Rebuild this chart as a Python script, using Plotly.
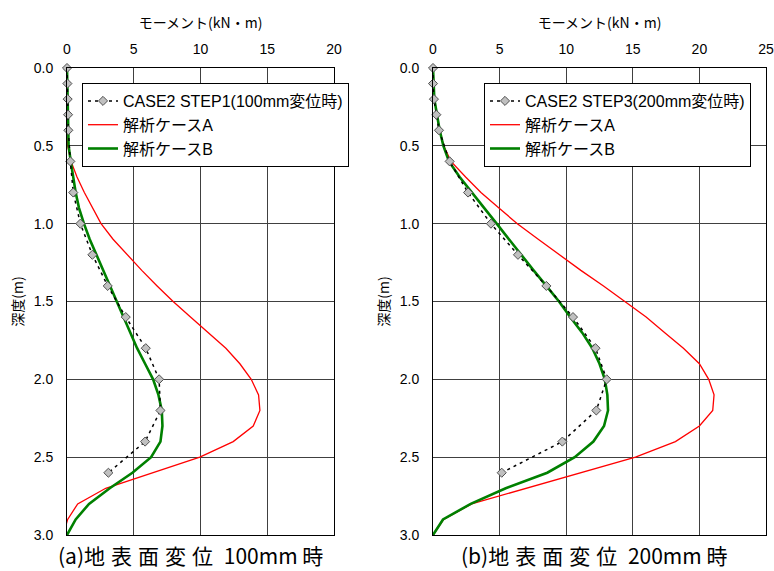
import plotly.graph_objects as go

depth_obs = [0.0, 0.1, 0.2, 0.3, 0.4, 0.6, 0.8, 1.0, 1.2, 1.4, 1.6, 1.8, 2.0, 2.2, 2.4, 2.6]
obs_a = [0.0, 0.03, 0.05, 0.08, 0.1, 0.25, 0.47, 1.0, 1.9, 3.05, 4.4, 5.9, 6.9, 7.0, 5.85, 3.1]
obs_b = [0.0, 0.0, 0.07, 0.25, 0.45, 1.25, 2.63, 4.35, 6.38, 8.51, 10.51, 12.2, 13.04, 12.26, 9.71, 5.16]

depth_calc = [0.0, 0.1, 0.2, 0.3, 0.4, 0.5, 0.6, 0.7, 0.8, 0.9, 1.0, 1.1, 1.2, 1.3, 1.4, 1.5,
              1.6, 1.7, 1.8, 1.9, 2.0, 2.1, 2.2, 2.3, 2.4, 2.5, 2.6, 2.7, 2.8, 2.9, 3.0]
case_a_left = [0.0, -0.05, -0.1, -0.1, -0.05, 0.05, 0.3, 0.75, 1.3, 1.9, 2.55, 3.45, 4.5, 5.6, 6.75, 7.95,
               9.25, 10.6, 11.9, 12.95, 13.8, 14.35, 14.45, 13.95, 12.45, 9.95, 6.4, 2.9, 0.8, 0.05, -0.3]
case_b_left = [0.0, 0.02, 0.03, 0.05, 0.07, 0.12, 0.28, 0.45, 0.65, 0.9, 1.27, 1.7, 2.2, 2.7, 3.2, 3.7,
               4.2, 4.7, 5.25, 5.85, 6.45, 6.85, 7.1, 7.15, 7.0, 6.3, 4.9, 3.2, 1.65, 0.65, 0.0]
case_a_right = [0.0, 0.03, 0.1, 0.3, 0.5, 0.8, 1.35, 2.45, 3.6, 4.95, 6.33, 7.9, 9.5, 11.1, 12.8, 14.4,
                16.0, 17.4, 18.8, 20.0, 20.7, 21.1, 21.0, 20.0, 18.2, 15.2, 11.1, 7.0, 2.9, 0.8, 0.0]
case_b_right = [0.0, 0.03, 0.1, 0.3, 0.5, 0.78, 1.2, 2.0, 2.9, 3.85, 4.78, 5.7, 6.58, 7.55, 8.51, 9.46,
                10.3, 11.2, 11.96, 12.5, 12.9, 13.09, 13.14, 12.84, 12.04, 10.64, 8.58, 5.46, 2.83, 0.75, 0.0]

obs_name_a = "CASE2 STEP1(100mm変位時)"
obs_name_b = "CASE2 STEP3(200mm変位時)"
name_a = "解析ケースA"
name_b = "解析ケースB"
x_title = "モーメント(kN・m)"
y_title = "深度(m)"
caption_a = ("(a)", "地表面変位", "100mm", "時")
caption_b = ("(b)", "地表面変位", "200mm", "時")

FONT = "Liberation Sans, Arial, Noto Sans CJK JP"
CJK = "Noto Sans CJK JP"

fig = go.Figure()


def add_panel(xa, ya, legend, obs_name, obs_vals, a_vals, b_vals):
    fig.add_trace(go.Scatter(x=a_vals, y=depth_calc, mode="lines", name=name_a,
                             line=dict(color="#FF0000", width=1.3), xaxis=xa, yaxis=ya,
                             legend=legend, legendrank=2))
    fig.add_trace(go.Scatter(x=b_vals, y=depth_calc, mode="lines", name=name_b,
                             line=dict(color="#008000", width=2.6), xaxis=xa, yaxis=ya,
                             legend=legend, legendrank=3))
    fig.add_trace(go.Scatter(x=obs_vals, y=depth_obs, mode="lines+markers", name=obs_name,
                             line=dict(color="#000000", width=1.5, dash="3px,4px"),
                             marker=dict(symbol="diamond", size=7, color="#C0C0C0",
                                         line=dict(color="#505050", width=1)),
                             xaxis=xa, yaxis=ya, legend=legend, legendrank=1, cliponaxis=False))


add_panel("x", "y", "legend", obs_name_a, obs_a, case_a_left, case_b_left)
add_panel("x2", "y2", "legend2", obs_name_b, obs_b, case_a_right, case_b_right)

ydom = [1 - 535 / 571, 1 - 68 / 571]
xcommon = dict(side="top", showline=True, linecolor="#000000", linewidth=1, mirror=True,
               showgrid=True, gridcolor="#404040", gridwidth=1, zeroline=False, dtick=5,
               tickfont=dict(family=FONT, size=14, color="#000000"),
               ticks="outside", ticklen=7, tickcolor="rgba(0,0,0,0)", automargin=False,
               title=dict(text=x_title, font=dict(family=CJK, size=14, color="#000000"), standoff=9))
ycommon = dict(range=[3, 0], dtick=0.5, tickformat=".1f", showline=True, linecolor="#000000",
               linewidth=1, mirror=True, showgrid=True, gridcolor="#404040", gridwidth=1,
               zeroline=False, ticks="outside", ticklen=10, tickcolor="rgba(0,0,0,0)", automargin=False,
               tickfont=dict(family=FONT, size=14, color="#000000"),
               title=dict(text=y_title, font=dict(family=CJK, size=14, color="#000000"), standoff=6))

legend_common = dict(xanchor="left", yanchor="top", bgcolor="white", bordercolor="#000000",
                     borderwidth=1, font=dict(family=FONT, size=16, color="#000000"),
                     traceorder="normal")

fig.update_layout(
    width=774, height=571,
    margin=dict(l=0, r=0, t=0, b=0, autoexpand=False),
    paper_bgcolor="white", plot_bgcolor="white",
    xaxis=dict(domain=[67 / 774, 334 / 774], range=[0, 20], anchor="y", **xcommon),
    yaxis=dict(domain=ydom, anchor="x", **ycommon),
    xaxis2=dict(domain=[433 / 774, 766 / 774], range=[0, 25], anchor="y2", **xcommon),
    yaxis2=dict(domain=ydom, anchor="x2", **ycommon),
    legend=dict(x=82 / 774, y=1 - 83 / 571, **legend_common),
    legend2=dict(x=484 / 774, y=1 - 83 / 571, **legend_common),
    showlegend=True,
)

for cap, xc in [(caption_a, 190), (caption_b, 594)]:
    txt = (cap[0] + '<span style="letter-spacing:6px">' + cap[1] + '</span> ' +
           cap[2] + ' ' + cap[3])
    fig.add_annotation(text=txt, x=xc / 774, y=1 - 555 / 571, xref="paper", yref="paper",
                       xanchor="center", yanchor="middle", showarrow=False, borderpad=0,
                       font=dict(family=CJK, size=21, color="#000000"))

fig.write_html("out.html")
